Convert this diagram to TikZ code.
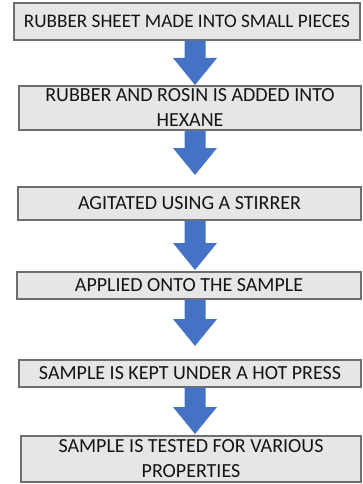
\documentclass[tikz,border=0pt]{standalone}
\usepackage{fontspec}
\setmainfont{Carlito}
\usetikzlibrary{calc}
\definecolor{boxfill}{HTML}{E7E6E6}
\definecolor{boxline}{HTML}{6E6E6E}
\definecolor{arrowblue}{HTML}{4472C4}
\definecolor{txt}{HTML}{141414}
\tikzset{
  stepbox/.style={draw=boxline, line width=1.2pt, fill=boxfill, inner sep=0pt,
    align=center, text=txt, font=\fontsize{20}{25}\selectfont},
}
\newcommand\myblockarrow[2]{%
  \fill[arrowblue] let \p1=(#1.south), \p2=(#2) in
    (\x2-10.5pt,\y1) -- (\x2+10.5pt,\y1) -- (\x2+10.5pt,\y2+27pt) -- (\x2+22pt,\y2+27pt)
    -- (\x2,\y2) -- (\x2-22pt,\y2+27pt) -- (\x2-10.5pt,\y2+27pt) -- cycle;}
\begin{document}
\begin{tikzpicture}[x=1pt,y=-1pt]
\useasboundingbox (0,0) rectangle (363,484);
\node[stepbox, font=\fontsize{19.2}{25}\selectfont, minimum width=346pt, minimum height=37pt] (b1) at (187,21.5) {RUBBER SHEET MADE INTO SMALL PIECES};
\node[stepbox, minimum width=342pt, minimum height=44pt] (b2) at (190,108) {RUBBER AND ROSIN IS ADDED INTO\\HEXANE};
\node[stepbox, minimum width=343pt, minimum height=33pt] (b3) at (189.5,203.5) {AGITATED USING A STIRRER};
\node[stepbox, minimum width=344pt, minimum height=27pt] (b4) at (189,285.5) {APPLIED ONTO THE SAMPLE};
\node[stepbox, minimum width=342pt, minimum height=27pt] (b5) at (190,373.5) {SAMPLE IS KEPT UNDER A HOT PRESS};
\node[stepbox, minimum width=340pt, minimum height=46pt] (b6) at (191,459) {SAMPLE IS TESTED FOR VARIOUS\\PROPERTIES};
\coordinate (t1) at (195,85);
\coordinate (t2) at (195,175);
\coordinate (t3) at (195,270);
\coordinate (t4) at (195,346);
\coordinate (t5) at (195,434);
\myblockarrow{b1}{t1}
\myblockarrow{b2}{t2}
\myblockarrow{b3}{t3}
\myblockarrow{b4}{t4}
\myblockarrow{b5}{t5}
\end{tikzpicture}
\end{document}
